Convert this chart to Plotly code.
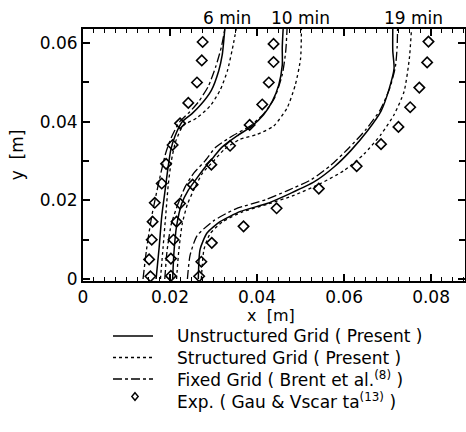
import plotly.graph_objects as go

# ---- data ----
times = ["6 min", "10 min", "19 min"]

# Unstructured Grid (Present) - solid
uns_6_x = [0.0168, 0.0175, 0.0181, 0.0188, 0.0195, 0.0202, 0.0212, 0.0228, 0.0250, 0.0272, 0.0295, 0.0312, 0.0320, 0.0323, 0.0326]
uns_6_y = [0.0, 0.008, 0.016, 0.022, 0.028, 0.033, 0.0365, 0.040, 0.042, 0.0445, 0.048, 0.053, 0.057, 0.060, 0.0636]
uns_10_x = [0.0206, 0.0209, 0.0215, 0.0227, 0.0242, 0.0258, 0.0281, 0.0300, 0.0319, 0.0354, 0.0388, 0.0415, 0.0435, 0.0450, 0.0458, 0.0458, 0.0460]
uns_10_y = [0.0, 0.0067, 0.0134, 0.0192, 0.0226, 0.0251, 0.0285, 0.031, 0.0335, 0.0364, 0.0389, 0.0418, 0.0452, 0.0494, 0.0544, 0.059, 0.0636]
uns_19_x = [0.0265, 0.0269, 0.0285, 0.0315, 0.0362, 0.0423, 0.0477, 0.0531, 0.0577, 0.0615, 0.0654, 0.0685, 0.0704, 0.0715, 0.0712, 0.0712]
uns_19_y = [0.0, 0.0075, 0.0117, 0.0146, 0.0172, 0.0192, 0.0218, 0.0247, 0.0285, 0.0326, 0.0377, 0.0427, 0.0485, 0.0536, 0.058, 0.0636]

# Structured Grid (Present) - dotted
str_6_x = [0.0178, 0.0184, 0.0190, 0.0196, 0.0203, 0.0213, 0.0230, 0.0262, 0.0292, 0.0315, 0.0332, 0.0346, 0.0352]
str_6_y = [0.0, 0.008, 0.016, 0.024, 0.030, 0.035, 0.039, 0.041, 0.044, 0.048, 0.053, 0.060, 0.0636]
str_10_x = [0.0215, 0.0220, 0.0228, 0.0240, 0.0256, 0.0275, 0.0300, 0.0325, 0.0360, 0.0400, 0.0438, 0.0469, 0.0488, 0.0500, 0.0502]
str_10_y = [0.0, 0.007, 0.014, 0.019, 0.023, 0.027, 0.030, 0.033, 0.0355, 0.0368, 0.0389, 0.0435, 0.0494, 0.056, 0.0636]
str_19_x = [0.0272, 0.0278, 0.0292, 0.0320, 0.0365, 0.0423, 0.0485, 0.0546, 0.0600, 0.0646, 0.0685, 0.0715, 0.0738, 0.0750, 0.0755]
str_19_y = [0.0, 0.0075, 0.0115, 0.0145, 0.017, 0.0190, 0.0213, 0.0243, 0.0276, 0.0318, 0.0368, 0.0418, 0.0477, 0.056, 0.0636]

# Fixed Grid (Brent et al.) - dash-dot
fix_6_x = [0.0138, 0.0146, 0.0158, 0.0175, 0.0190, 0.0203, 0.0222, 0.0245, 0.0265, 0.0288, 0.0305, 0.0318, 0.0326]
fix_6_y = [0.0, 0.0075, 0.016, 0.025, 0.032, 0.036, 0.040, 0.0425, 0.045, 0.049, 0.054, 0.059, 0.0636]
fix_10_x = [0.0188, 0.0193, 0.0203, 0.0218, 0.0235, 0.0255, 0.0280, 0.0305, 0.0345, 0.0385, 0.0415, 0.0440, 0.0458, 0.0466, 0.0469]
fix_10_y = [0.0, 0.007, 0.014, 0.019, 0.0235, 0.027, 0.030, 0.0335, 0.0365, 0.039, 0.042, 0.046, 0.052, 0.058, 0.0636]
fix_19_x = [0.0240, 0.0246, 0.0262, 0.0300, 0.0350, 0.0420, 0.0470, 0.0525, 0.0570, 0.0610, 0.0650, 0.0683, 0.0705, 0.0718, 0.0722, 0.0723]
fix_19_y = [0.0, 0.006, 0.011, 0.0148, 0.0178, 0.0202, 0.0225, 0.0253, 0.029, 0.0332, 0.038, 0.043, 0.0485, 0.054, 0.059, 0.0636]

# Experiment (Gau & Viskanta) - diamonds
exp_6_x = [0.0155, 0.0152, 0.0158, 0.0160, 0.0165, 0.0181, 0.0191, 0.0206, 0.0223, 0.0242, 0.0262, 0.0273, 0.0275]
exp_6_y = [0.0007, 0.0050, 0.0100, 0.0146, 0.0194, 0.0243, 0.0293, 0.0341, 0.0396, 0.0448, 0.0500, 0.0556, 0.0603]
exp_10_x = [0.0202, 0.0202, 0.0208, 0.0215, 0.0223, 0.0252, 0.0295, 0.0338, 0.0383, 0.0412, 0.0427, 0.0438, 0.0438]
exp_10_y = [0.0008, 0.0052, 0.0100, 0.0146, 0.0192, 0.0240, 0.0291, 0.0339, 0.0392, 0.0444, 0.0500, 0.0552, 0.0598]
exp_19_x = [0.0267, 0.0272, 0.0296, 0.0369, 0.0445, 0.0542, 0.0629, 0.0685, 0.0725, 0.0752, 0.0773, 0.0791, 0.0794]
exp_19_y = [0.0007, 0.0044, 0.0092, 0.0134, 0.0180, 0.0230, 0.0287, 0.0343, 0.0387, 0.0437, 0.0487, 0.0551, 0.0604]

time_label_x = [0.0331, 0.0501, 0.0759]

legend_names = [
    "Unstructured Grid ( Present )",
    "Structured Grid ( Present )",
    "Fixed Grid ( Brent et al.<sup>(8)</sup> )",
    "Exp. ( Gau & Vscar ta<sup>(13)</sup> )",
]

FONT = "DejaVu Sans"
W, H = 466, 432
ML, MR, MT, MB = 83, 1, 29, 151
PW, PH = W - ML - MR, H - MT - MB


def px_x(px):
    return (px - ML) / PW


def px_y(py):
    return (H - MB - py) / PH


fig = go.Figure()

uns = [(uns_6_x, uns_6_y), (uns_10_x, uns_10_y), (uns_19_x, uns_19_y)]
strs = [(str_6_x, str_6_y), (str_10_x, str_10_y), (str_19_x, str_19_y)]
fixs = [(fix_6_x, fix_6_y), (fix_10_x, fix_10_y), (fix_19_x, fix_19_y)]
exps = [(exp_6_x, exp_6_y), (exp_10_x, exp_10_y), (exp_19_x, exp_19_y)]

for i, (x, y) in enumerate(uns):
    fig.add_trace(go.Scatter(x=x, y=y, mode="lines", name=legend_names[0], showlegend=False,
                             line=dict(color="black", width=1.5, shape="spline", smoothing=0.6)))
for i, (x, y) in enumerate(strs):
    fig.add_trace(go.Scatter(x=x, y=y, mode="lines", name=legend_names[1], showlegend=False,
                             line=dict(color="black", width=1.3, dash="dot", shape="spline", smoothing=0.6)))
for i, (x, y) in enumerate(fixs):
    fig.add_trace(go.Scatter(x=x, y=y, mode="lines", name=legend_names[2], showlegend=False,
                             line=dict(color="black", width=1.3, dash="dashdot", shape="spline", smoothing=0.6)))
for i, (x, y) in enumerate(exps):
    fig.add_trace(go.Scatter(x=x, y=y, mode="markers", name=legend_names[3], showlegend=False,
                             marker=dict(symbol="diamond-open", size=8, color="black",
                                         line=dict(width=1.6, color="black"))))

for t, xl in zip(times, time_label_x):
    fig.add_annotation(x=xl, y=1.0, xref="x", yref="paper", text=t, showarrow=False,
                       yanchor="bottom", yshift=-1, font=dict(family=FONT, size=17, color="black"))

# x-axis title
fig.add_annotation(x=px_x(271), y=px_y(315), xref="paper", yref="paper", text="x  [m]",
                   showarrow=False, xanchor="center", yanchor="middle",
                   font=dict(family=FONT, size=16, color="black"))

# ---- legend (drawn below the plot) ----
row_y = [336, 357.5, 379, 400.5]
dashes = ["solid", "dot", "dashdot"]
for k in range(3):
    fig.add_shape(type="line", xref="paper", yref="paper",
                  x0=px_x(113), x1=px_x(153), y0=px_y(row_y[k]), y1=px_y(row_y[k]),
                  line=dict(color="black", width=1.3, dash=dashes[k]))
dx, dy = 3.2, 3.8
cx, cy = 135, row_y[3] - 4
fig.add_shape(type="path", xref="paper", yref="paper",
              path=(f"M {px_x(cx)},{px_y(cy - dy)} L {px_x(cx + dx)},{px_y(cy)} "
                    f"L {px_x(cx)},{px_y(cy + dy)} L {px_x(cx - dx)},{px_y(cy)} Z"),
              line=dict(color="black", width=1.4))
for k, name in enumerate(legend_names):
    fig.add_annotation(x=px_x(175), y=px_y(row_y[k]), xref="paper", yref="paper", text=name,
                       showarrow=False, xanchor="left", yanchor="middle",
                       font=dict(family=FONT, size=17, color="black"))

fig.update_xaxes(range=[0, 0.0878], tickvals=[0, 0.02, 0.04, 0.06, 0.08],
                 ticktext=["0", "0.02", "0.04", "0.06", "0.08"],
                 ticks="inside", ticklen=7, tickwidth=1.5, tickcolor="black",
                 minor=dict(dtick=0.0025, ticks="inside", ticklen=4, tickwidth=1.2, tickcolor="black"),
                 showline=True, linecolor="black", linewidth=2, mirror="allticks",
                 showgrid=False, zeroline=False,
                 tickfont=dict(family=FONT, size=17, color="black"))
fig.update_yaxes(range=[-0.0005, 0.0636], tickvals=[0, 0.02, 0.04, 0.06],
                 ticktext=["0", "0.02", "0.04", "0.06"],
                 ticks="inside", ticklen=7, tickwidth=1.5, tickcolor="black",
                 minor=dict(tickvals=[0.01, 0.03, 0.05], ticks="inside", ticklen=6, tickwidth=1.5, tickcolor="black"),
                 showline=True, linecolor="black", linewidth=2, mirror="allticks",
                 showgrid=False, zeroline=False,
                 title=dict(text="y  [m]", font=dict(family=FONT, size=17, color="black"), standoff=12),
                 tickfont=dict(family=FONT, size=17, color="black"))

fig.update_layout(
    width=W, height=H,
    margin=dict(l=ML, r=MR, t=MT, b=MB, autoexpand=False),
    plot_bgcolor="white", paper_bgcolor="white",
    font=dict(family=FONT, size=17, color="black"),
    showlegend=False,
)

fig.write_html("out.html", config={"displayModeBar": False},
               post_script="document.body.style.margin='0';document.body.style.overflow='hidden';")
